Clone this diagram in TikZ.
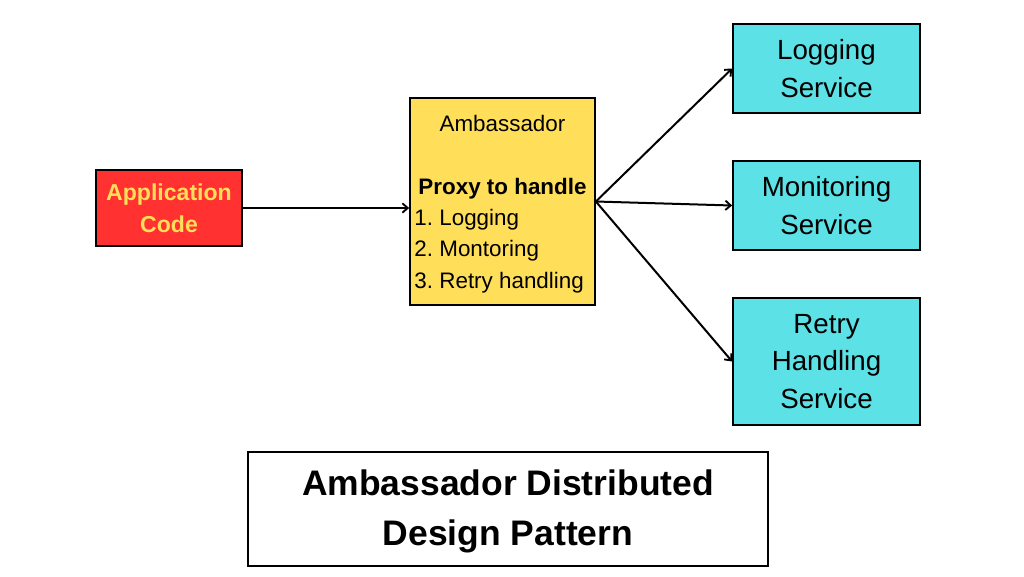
\documentclass[tikz,border=0pt]{standalone}
\usepackage{fontspec}
\setmainfont{Liberation Sans}
\usetikzlibrary{arrows.meta}
\definecolor{appred}{HTML}{FF3131}
\definecolor{ambyellow}{HTML}{FFDE59}
\definecolor{svccyan}{HTML}{5CE1E6}
\frenchspacing
\begin{document}
\begin{tikzpicture}[x=0.75pt,y=-0.75pt,
  box/.style={draw=black, line width=1.3pt, inner sep=0pt, align=center},
  svcbox/.style={box, fill=svccyan, minimum width=140.25pt, font=\fontsize{20.8}{28}\selectfont},
  conn/.style={line width=1.5pt, -{Straight Barb[length=4pt,width=7pt,line width=1.4pt]}}]
\useasboundingbox (0,0) rectangle (1024,576);
\fill[white] (0,0) rectangle (1024,576);

\node[box, fill=appred, text=ambyellow, minimum width=109.5pt, minimum height=57pt,
  font=\fontsize{17.3}{24}\selectfont\bfseries] (app) at (169,208) {Application\\Code};

\node[box, fill=ambyellow, minimum width=138.75pt, minimum height=155.25pt,
  font=\fontsize{16.8}{23.6}\selectfont\frenchspacing] (amb) at (502.5,201.5)
  {\begin{tabular}{@{}l@{}}
   \multicolumn{1}{@{}c@{}}{\rule{0pt}{19.5pt}Ambassador}\\
   \\
   \multicolumn{1}{@{}c@{}}{\textbf{Proxy to handle}}\\
   \hspace{-3pt}1.\ Logging\\
   \hspace{-3pt}2.\ Montoring\\
   \hspace{-3pt}3.\ Retry handling
   \end{tabular}};

\node[svcbox, minimum height=66.75pt] (log) at (826.5,68.5) {Logging\\Service};
\node[svcbox, minimum height=66.75pt] (mon) at (826.5,205.5) {Monitoring\\Service};
\node[svcbox, minimum height=95.25pt] (ret) at (826.5,361.5) {Retry\\Handling\\Service};

\node[box, fill=white, minimum width=390pt, minimum height=85.5pt,
  font=\fontsize{26.6}{37.2}\selectfont\bfseries] (title) at (508,509)
  {\rule{0pt}{23pt}Ambassador Distributed\\Design Pattern};

\draw[conn] (app.east) -- (app.east -| amb.west);
\draw[conn] (amb.east) -- (log.west);
\draw[conn] (amb.east) -- (mon.west);
\draw[conn] (amb.east) -- (ret.west);
\end{tikzpicture}
\end{document}
